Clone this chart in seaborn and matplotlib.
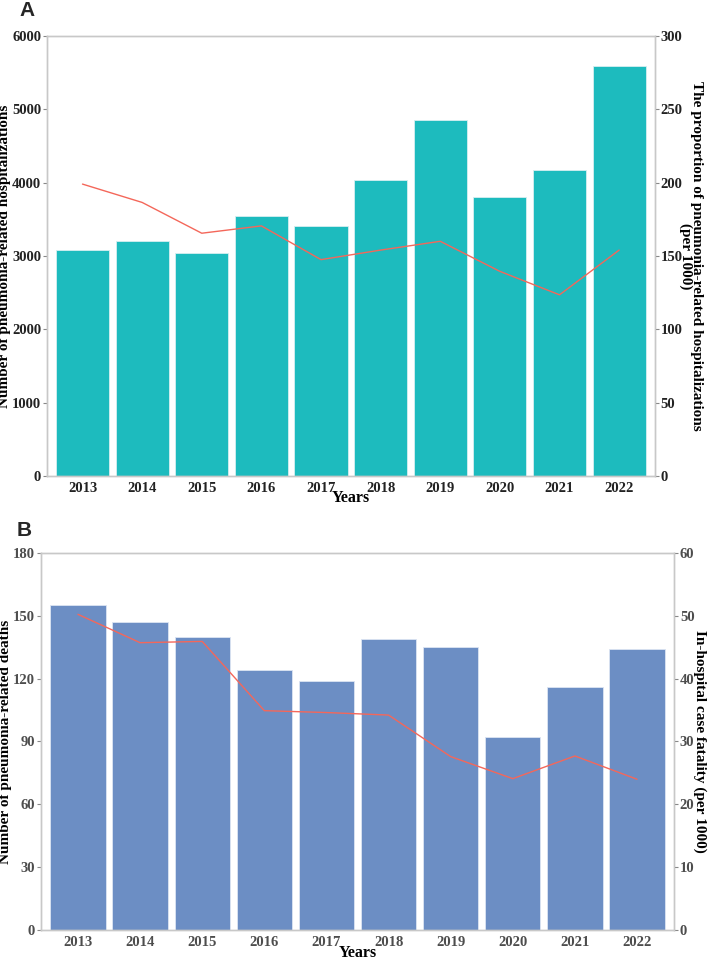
"""
Pneumonia-related hospitalizations and deaths, 2013-2022 (two panels).
"""

import matplotlib.pyplot as plt
import seaborn as sns

years = ["2013", "2014", "2015", "2016", "2017", "2018", "2019", "2020", "2021", "2022"]

# Panel A
hosp_counts = [3080, 3210, 3040, 3545, 3415, 4040, 4860, 3810, 4170, 5585]
hosp_rate = [199, 186.5, 165.5, 170.5, 147.5, 154, 160, 139.5, 123.5, 154]

# Panel B
death_counts = [155, 147, 140, 124, 119, 139, 135, 92, 116, 134]
fatality_rate = [50.2, 45.7, 45.9, 34.9, 34.6, 34.2, 27.6, 24.1, 27.7, 24.0]

SERIF = ["Liberation Serif", "DejaVu Serif"]
LINE_RED = "#F4675A"
SPINE = "#C8C8C8"

sns.set_style("white")
plt.rcParams["font.family"] = SERIF
plt.rcParams["font.weight"] = "bold"


def draw_panel(ax, counts, rate, bar_color, edge_color, tick_color, ymax, yticks,
               rmax, rticks, ylabel, rlabel, rlabel_pad):
    sns.barplot(x=years, y=counts, ax=ax, color=bar_color, width=0.89,
                saturation=1, edgecolor=edge_color, linewidth=0.6)
    ax.set_ylim(0, ymax)
    ax.set_yticks(yticks)
    ax.set_xlim(-0.6, 9.6)

    ax2 = ax.twinx()
    sns.pointplot(x=years, y=rate, ax=ax2, color=LINE_RED, markers="",
                  linewidth=1.0, errorbar=None)
    ax2.set_ylim(0, rmax)
    ax2.set_yticks(rticks)
    ax2.set_xlim(-0.6, 9.6)

    for a in (ax, ax2):
        for s in a.spines.values():
            s.set_color(SPINE)
            s.set_linewidth(1.0)
        a.tick_params(length=3, width=0.8, color="#888888", pad=1,
                      labelsize=10.5, labelcolor=tick_color)
        for lab in a.get_xticklabels() + a.get_yticklabels():
            lab.set_fontweight("bold")

    ax.set_xlabel("Years", fontsize=11.5, fontweight="bold", labelpad=-3, color="black")
    ax.set_ylabel(ylabel, fontsize=11, fontweight="bold", labelpad=0.5, color="black")
    ax2.set_ylabel(rlabel, fontsize=11, fontweight="bold", rotation=270,
                   labelpad=rlabel_pad, color="black", linespacing=0.8)
    return ax2


fig = plt.figure(figsize=(7.08, 9.59), dpi=100)

ax_a = fig.add_axes([0.066, 0.5037, 0.859, 0.4588])
draw_panel(ax_a, hosp_counts, hosp_rate, "#1DBBBE", "#D6EEF0", "#222222", 6000,
           range(0, 6001, 1000), 300, range(0, 301, 50),
           "Number of pneumonia-related hospitalizations",
           "The proportion of pneumonia-related hospitalizations\n(per 1000)", 15)

ax_b = fig.add_axes([0.0575, 0.0299, 0.8949, 0.3938])
draw_panel(ax_b, death_counts, fatality_rate, "#6C8EC4", "#DCE4F2", "#4D4D4D", 180,
           range(0, 181, 30), 60, range(0, 61, 10),
           "Number of pneumonia-related deaths",
           "In-hospital case fatality (per 1000)", 9)

fig.text(0.028, 0.999, "A", fontsize=15, fontweight="bold",
         family=["Liberation Sans", "DejaVu Sans"], va="top")
fig.text(0.024, 0.457, "B", fontsize=15, fontweight="bold",
         family=["Liberation Sans", "DejaVu Sans"], va="top")

fig.savefig("out.png", dpi=100)
